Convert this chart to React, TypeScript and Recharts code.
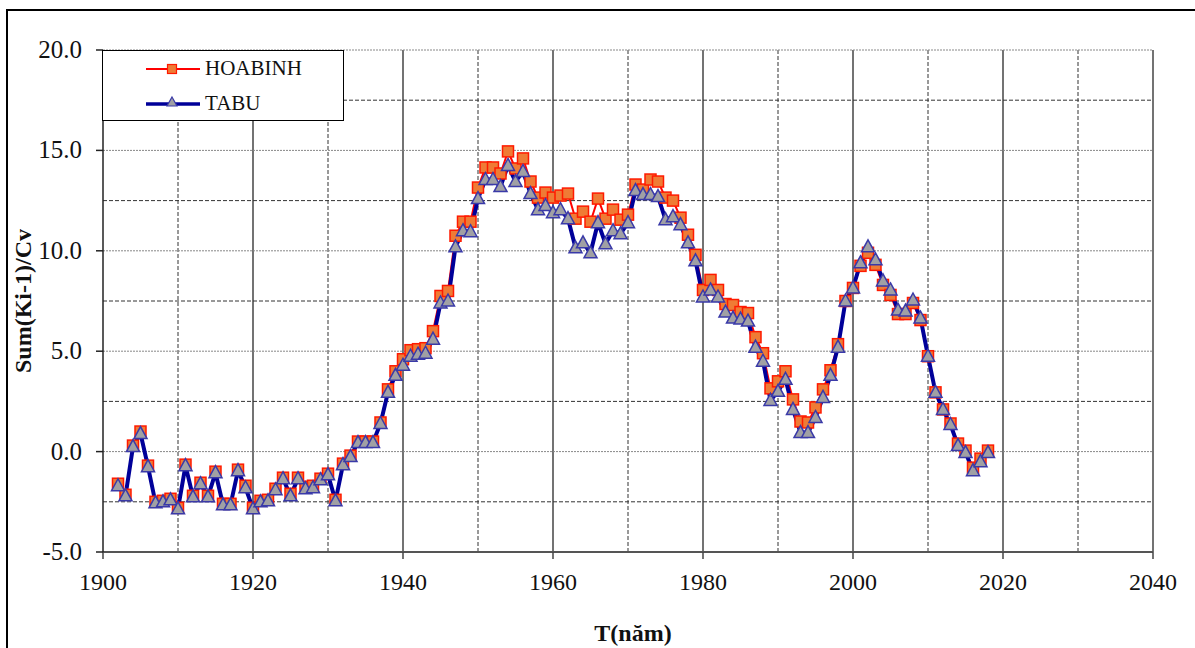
import { LineChart, Line, XAxis, YAxis, ReferenceLine, Legend } from 'recharts';

const FONT = 'Liberation Serif';

const years = [
    1902, 1903, 1904, 1905, 1906, 1907, 1908, 1909, 1910, 1911, 1912, 1913, 1914, 1915, 1916, 1917, 1918, 1919, 1920,
    1921, 1922, 1923, 1924, 1925, 1926, 1927, 1928, 1929, 1930, 1931, 1932, 1933, 1934, 1935, 1936, 1937, 1938, 1939,
    1940, 1941, 1942, 1943, 1944, 1945, 1946, 1947, 1948, 1949, 1950, 1951, 1952, 1953, 1954, 1955, 1956, 1957, 1958,
    1959, 1960, 1961, 1962, 1963, 1964, 1965, 1966, 1967, 1968, 1969, 1970, 1971, 1972, 1973, 1974, 1975, 1976, 1977,
    1978, 1979, 1980, 1981, 1982, 1983, 1984, 1985, 1986, 1987, 1988, 1989, 1990, 1991, 1992, 1993, 1994, 1995, 1996,
    1997, 1998, 1999, 2000, 2001, 2002, 2003, 2004, 2005, 2006, 2007, 2008, 2009, 2010, 2011, 2012, 2013, 2014, 2015,
    2016, 2017, 2018,
];

const hoabinh = [
    -1.6, -2.15, 0.3, 1.0, -0.7, -2.5, -2.45, -2.35, -2.8, -0.65, -2.2, -1.55, -2.2, -1.0, -2.6, -2.6, -0.9, -1.7, -2.8,
    -2.45, -2.4, -1.85, -1.3, -2.1, -1.3, -1.75, -1.7, -1.35, -1.1, -2.4, -0.6, -0.2, 0.5, 0.5, 0.5, 1.45, 3.1, 4.0,
    4.6, 5.05, 5.1, 5.15, 6.0, 7.75, 8.0, 10.75, 11.45, 11.45, 13.15, 14.15, 14.15, 13.85, 14.95, 14.1, 14.6, 13.45, 12.65,
    12.9, 12.65, 12.75, 12.85, 11.6, 11.95, 11.45, 12.6, 11.6, 12.05, 11.55, 11.8, 13.3, 13.05, 13.55, 13.45, 12.65, 12.5, 11.65,
    10.8, 9.8, 8.05, 8.55, 8.05, 7.35, 7.3, 6.95, 6.9, 5.7, 4.9, 3.15, 3.5, 4.0, 2.6, 1.5, 1.45, 2.2, 3.1,
    4.05, 5.35, 7.5, 8.15, 9.25, 9.9, 9.3, 8.3, 7.8, 6.85, 6.85, 7.4, 6.55, 4.75, 2.95, 2.1, 1.4, 0.4, 0.05,
    -0.8, -0.35, 0.05,
];

const tabu = [
    -1.7, -2.2, 0.25, 0.9, -0.75, -2.55, -2.5, -2.4, -2.85, -0.7, -2.25, -1.6, -2.25, -1.05, -2.65, -2.65, -0.95, -1.8, -2.85,
    -2.5, -2.45, -1.9, -1.35, -2.2, -1.35, -1.85, -1.8, -1.4, -1.15, -2.45, -0.65, -0.25, 0.45, 0.45, 0.45, 1.4, 2.95, 3.8,
    4.3, 4.75, 4.85, 4.9, 5.6, 7.4, 7.5, 10.2, 11.0, 10.95, 12.6, 13.55, 13.55, 13.2, 14.25, 13.45, 13.95, 12.85, 12.05,
    12.25, 11.9, 12.05, 11.6, 10.15, 10.4, 9.9, 11.4, 10.35, 11.0, 10.85, 11.4, 13.0, 12.8, 12.8, 12.7, 11.55, 11.7, 11.3,
    10.4, 9.5, 7.7, 8.05, 7.7, 6.95, 6.65, 6.6, 6.5, 5.2, 4.5, 2.55, 3.0, 3.6, 2.1, 0.95, 0.95, 1.7, 2.7,
    3.8, 5.2, 7.5, 8.15, 9.4, 10.2, 9.55, 8.5, 8.05, 7.05, 7.0, 7.55, 6.65, 4.75, 2.95, 2.1, 1.35, 0.3, -0.05,
    -0.95, -0.5, -0.05,
];

const xTicks = [1900, 1920, 1940, 1960, 1980, 2000, 2020, 2040];
const yTicks = [-5, 0, 5, 10, 15, 20];
// grid: solid every 20 years, dashed on the odd decades
const xSolidGrid = [1920, 1940, 1960, 1980, 2000, 2020, 2040];
const xDashedGrid = [1910, 1930, 1950, 1970, 1990, 2010, 2030];
const yDottedGrid = [0, 5, 10, 15, 20];
const yDashedGrid = [-2.5, 2.5, 7.5, 12.5, 17.5];

const chartData = years.map((year, i) => ({ year, HOABINH: hoabinh[i], TABU: tabu[i] }));

const SquareDot = (props: any) => {
    const { cx, cy, index } = props;
    if (cx == null || cy == null) return null;
    return <rect key={`sq-${index}`} x={cx - 5.5} y={cy - 5.5} width={11} height={11} fill="#EF7B35" stroke="#FF1A00" strokeWidth={1.5} />;
};

const TriangleDot = (props: any) => {
    const { cx, cy, index } = props;
    if (cx == null || cy == null) return null;
    return (
        <polygon
            key={`tr-${index}`}
            points={`${cx},${cy - 7} ${cx + 6.5},${cy + 5} ${cx - 6.5},${cy + 5}`}
            fill="#A0A0A4"
            stroke="#3A3AA8"
            strokeWidth={1.5}
        />
    );
};

const XTick = (props: any) => {
    const { x, y, payload } = props;
    return (
        <text x={x} y={y} dy={17} textAnchor="middle" fontFamily={FONT} fontSize={24} fill="#111">
            {payload.value}
        </text>
    );
};

const YTick = (props: any) => {
    const { x, y, payload } = props;
    return (
        <text x={x} y={y} dy={8} textAnchor="end" fontFamily={FONT} fontSize={25} fill="#111">
            {Number(payload.value).toFixed(1)}
        </text>
    );
};

const LegendBox = () => (
    <div
        style={{
            width: 240,
            height: 69,
            background: '#fff',
            border: '1px solid #000',
            fontFamily: FONT,
            fontSize: 21,
            color: '#111',
            position: 'relative',
        }}
    >
        <div style={{ position: 'absolute', left: 42, top: 5, display: 'flex', alignItems: 'center' }}>
            <svg width={56} height={24}>
                <line x1={1} y1={12} x2={55} y2={12} stroke="#FF0000" strokeWidth={2} />
                <rect x={22.5} y={7.5} width={9} height={9} fill="#EF7B35" stroke="#FF1A00" strokeWidth={1.2} />
            </svg>
            <span style={{ marginLeft: 4, fontFamily: FONT }}>HOABINH</span>
        </div>
        <div style={{ position: 'absolute', left: 42, top: 40, display: 'flex', alignItems: 'center' }}>
            <svg width={56} height={24}>
                <line x1={1} y1={12} x2={55} y2={12} stroke="#000099" strokeWidth={3.5} />
                <polygon points="27,5 32,14 22,14" fill="#A0A0A4" stroke="#3A3AA8" strokeWidth={1.2} />
            </svg>
            <span style={{ marginLeft: 4, fontFamily: FONT }}>TABU</span>
        </div>
    </div>
);

const YLabel = () => (
    <text
        x={31}
        y={301}
        transform="rotate(-90 31 301)"
        textAnchor="middle"
        fontFamily={FONT}
        fontSize={24}
        fontWeight="bold"
        fill="#111"
    >
        Sum(Ki-1)/Cv
    </text>
);

const XLabel = () => (
    <text x={633} y={641} textAnchor="middle" fontFamily={FONT} fontSize={24} fontWeight="bold" fill="#111">
        T(năm)
    </text>
);

export default function App() {
    return (
        <div
            style={{
                position: 'absolute',
                left: 0,
                top: 0,
                width: 1195,
                height: 648,
                overflow: 'hidden',
                background: '#fff',
                fontFamily: FONT,
            }}
        >
            <div style={{ position: 'absolute', left: 6, top: 9, width: 1400, height: 1000, border: '2px solid #000' }} />
            <div style={{ position: 'absolute', left: 0, top: 0 }}>
                <LineChart
                    width={1195}
                    height={648}
                    data={chartData}
                    margin={{ top: 50, right: 42, bottom: 66, left: 0 }}
                    style={{ fontFamily: FONT }}
                >
                    {xDashedGrid.map((v) => (
                        <ReferenceLine key={`xd-${v}`} x={v} stroke="#333" strokeWidth={1} strokeDasharray="4 2" />
                    ))}
                    {xSolidGrid.map((v) => (
                        <ReferenceLine key={`xs-${v}`} x={v} stroke="#444" strokeWidth={1.5} />
                    ))}
                    {yDottedGrid.map((v) => (
                        <ReferenceLine key={`yd-${v}`} y={v} stroke="#888" strokeWidth={1} strokeDasharray="2 1" />
                    ))}
                    {yDashedGrid.map((v) => (
                        <ReferenceLine key={`yh-${v}`} y={v} stroke="#333" strokeWidth={1} strokeDasharray="4 2" />
                    ))}
                    <XAxis
                        dataKey="year"
                        type="number"
                        domain={[1900, 2040]}
                        ticks={xTicks}
                        tickSize={7}
                        tickMargin={14}
                        stroke="#555"
                        strokeWidth={2}
                        tick={<XTick />}
                        tickLine={{ stroke: '#444', strokeWidth: 1.5 }}
                        label={<XLabel />}
                    />
                    <YAxis
                        type="number"
                        domain={[-5, 20]}
                        ticks={yTicks}
                        width={103}
                        tickSize={7}
                        tickMargin={14}
                        stroke="#222"
                        strokeWidth={1.5}
                        tick={<YTick />}
                        tickLine={{ stroke: '#222', strokeWidth: 1.5 }}
                        label={<YLabel />}
                    />
                    <Legend
                        layout="horizontal"
                        verticalAlign="middle"
                        align="center"
                        content={<LegendBox />}
                        wrapperStyle={{ position: 'absolute', left: 102, top: 50, width: 'auto' }}
                    />
                    <Line
                        dataKey="HOABINH"
                        stroke="#FF0000"
                        strokeWidth={2}
                        dot={<SquareDot />}
                        activeDot={false}
                        isAnimationActive={false}
                    />
                    <Line
                        dataKey="TABU"
                        stroke="#000099"
                        strokeWidth={4}
                        dot={<TriangleDot />}
                        activeDot={false}
                        isAnimationActive={false}
                    />
                </LineChart>
            </div>
        </div>
    );
}
